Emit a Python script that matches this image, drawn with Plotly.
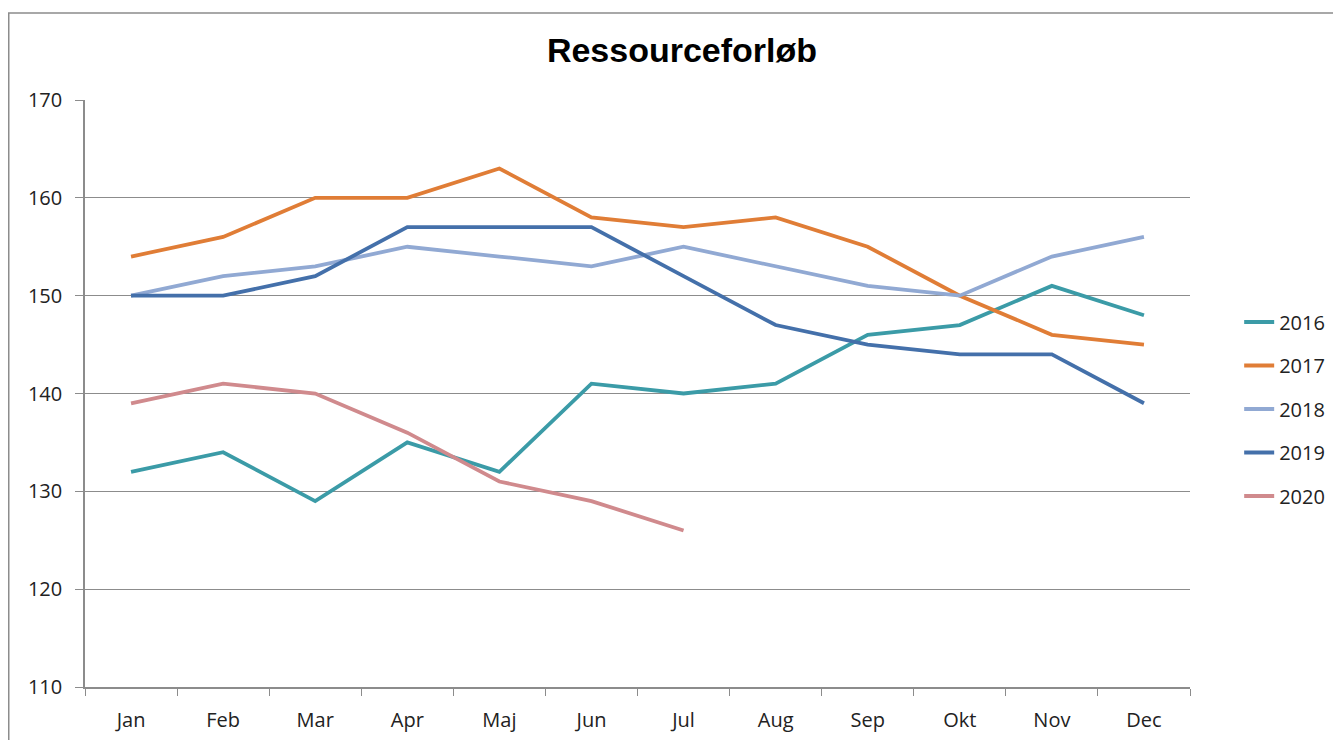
import plotly.graph_objects as go

months = ["Jan", "Feb", "Mar", "Apr", "Maj", "Jun", "Jul", "Aug", "Sep", "Okt", "Nov", "Dec"]
s2016 = [132, 134, 129, 135, 132, 141, 140, 141, 146, 147, 151, 148]
s2017 = [154, 156, 160, 160, 163, 158, 157, 158, 155, 150, 146, 145]
s2018 = [150, 152, 153, 155, 154, 153, 155, 153, 151, 150, 154, 156]
s2019 = [150, 150, 152, 157, 157, 157, 152, 147, 145, 144, 144, 139]
s2020 = [139, 141, 140, 136, 131, 129, 126]

series = [
    ("2016", s2016, "#3B9BA7"),
    ("2017", s2017, "#E07D36"),
    ("2018", s2018, "#91A9D3"),
    ("2019", s2019, "#4470AA"),
    ("2020", s2020, "#D08A8D"),
]

fig = go.Figure()
for name, vals, col in series:
    fig.add_trace(go.Scatter(
        x=months[:len(vals)], y=vals, name=name, mode="lines",
        line=dict(color=col, width=3.8), legendgroup=name,
    ))

fig.update_layout(
    width=1341, height=740,
    margin=dict(l=77, r=159, t=92, b=61),
    paper_bgcolor="white", plot_bgcolor="white",
    title=dict(text="<b>Ressourceforløb</b>", x=0.5026, xanchor="center", y=0.943, yanchor="middle",
               font=dict(family="Liberation Sans, Arial", size=34, color="black")),
    font=dict(family="Open Sans, Noto Sans", size=20, color="#222222"),
    showlegend=True,
    legend=dict(x=1.0445, xanchor="left", y=0.655, yanchor="top", tracegroupgap=14.5,
                font=dict(size=20, color="#222222"), bgcolor="rgba(0,0,0,0)"),
    xaxis=dict(type="category", categoryorder="array", categoryarray=months,
               range=[-0.5, 11.5], showgrid=False, showline=True, linecolor="#8C8C8C", linewidth=1.5,
               ticks="outside", ticklen=7, tickcolor="#8C8C8C", tickson="boundaries",
               tickfont=dict(size=20), zeroline=False, ticklabelstandoff=14),
    yaxis=dict(range=[110, 170], dtick=10, showgrid=True, gridcolor="#8C8C8C", gridwidth=1.2,
               showline=True, linecolor="#8C8C8C", linewidth=1.5, ticks="outside", ticklen=8,
               tickcolor="#8C8C8C", tickfont=dict(size=20), zeroline=False, ticklabelstandoff=9),
)

fig.add_shape(type="rect", xref="paper", yref="paper", x0=-0.0690, y0=-0.3, x1=1.3, y1=1.148,
              line=dict(color="#8C8C8C", width=1.5), fillcolor="rgba(0,0,0,0)", layer="below")

fig.write_html("out.html")
